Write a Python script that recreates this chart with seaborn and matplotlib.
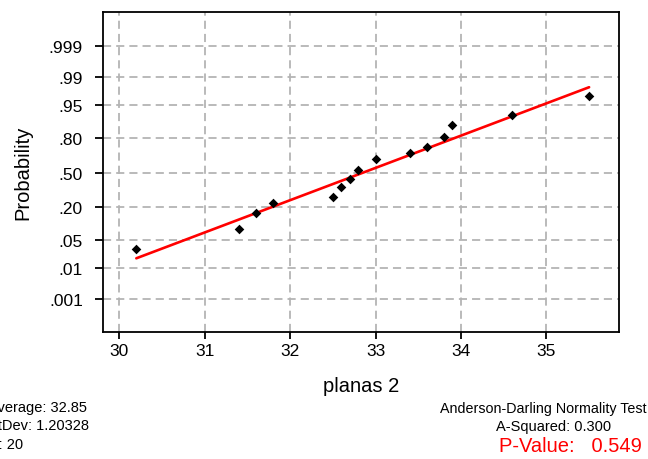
import math
from statistics import NormalDist
import numpy as np
import pandas as pd
import matplotlib
matplotlib.use("Agg")
import matplotlib.pyplot as plt
from matplotlib.ticker import NullLocator
import seaborn as sns

# ---- data ----
values = [30.2, 31.4, 31.6, 31.8, 32.5, 32.6, 32.7, 32.8, 33.0, 33.4, 33.6, 33.8, 33.9, 34.6, 35.5]
probs = [0.031, 0.085, 0.163, 0.232, 0.277, 0.364, 0.436, 0.529, 0.628, 0.684, 0.732, 0.810, 0.876, 0.919, 0.970]
fit_x = [30.2, 35.5]
fit_p = [0.0184, 0.9814]
ytick_probs = [0.999, 0.99, 0.95, 0.80, 0.50, 0.20, 0.05, 0.01, 0.001]
ytick_labels = ['.999', '.99', '.95', '.80', '.50', '.20', '.05', '.01', '.001']
xticks = [30, 31, 32, 33, 34, 35]
xticklabels = ['30', '31', '32', '33', '34', '35']
stats_left = ["Average: 32.85", "StDev: 1.20328", "N: 20"]
stats_right = ["Anderson-Darling Normality Test", "A-Squared: 0.300"]
pvalue_text = "P-Value:   0.549"

sns.set_style("white")
plt.rcParams['font.family'] = ['Liberation Sans', 'DejaVu Sans']

ND = NormalDist()
_inv_cdf = np.vectorize(ND.inv_cdf, otypes=[float])
_erf = np.vectorize(math.erf, otypes=[float])


def fwd(p):
    p = np.clip(np.asarray(p, dtype=float), 1e-12, 1 - 1e-12)
    return _inv_cdf(p)


def inv(z):
    z = np.asarray(z, dtype=float)
    return 0.5 * (1.0 + _erf(z / math.sqrt(2.0)))


fig = plt.figure(figsize=(6.48, 4.6), dpi=100)
ax = fig.add_axes([103 / 648, 1 - 333 / 460, 516 / 648, 320.5 / 460])

df = pd.DataFrame({"planas 2": values, "Probability": probs})
fit_df = pd.DataFrame({"planas 2": fit_x, "Probability": fit_p})

sns.lineplot(data=fit_df, x="planas 2", y="Probability", color="#ff0000",
             linewidth=1.9, estimator=None, sort=False, ax=ax, zorder=2)
sns.scatterplot(data=df, x="planas 2", y="Probability", marker="D", s=24,
                color="black", edgecolor="black", linewidth=0, ax=ax, zorder=3)

ax.set_yscale("function", functions=(fwd, inv))
ax.set_ylim(ND.cdf(-3.885), ND.cdf(3.93))
ax.set_xlim(29.81, 35.85)
ax.set_yticks(ytick_probs)
ax.set_yticklabels(ytick_labels)
ax.yaxis.set_minor_locator(NullLocator())
ax.set_xticks(xticks)
ax.set_xticklabels(xticklabels)
ax.xaxis.set_minor_locator(NullLocator())

ax.set_axisbelow(True)
ax.grid(True, color="#b4b4b4", linestyle=(0, (4.5, 2.8)), linewidth=1.3)

for s in ax.spines.values():
    s.set_color("black")
    s.set_linewidth(1.3)

ax.tick_params(axis="y", direction="out", length=5.5, width=1.3, pad=9,
               labelsize=12.5, left=True, colors="black")
ax.tick_params(axis="x", direction="out", length=5, width=1.3, pad=3,
               labelsize=12.5, bottom=True, colors="black")

ax.set_xlabel("planas 2", fontsize=14.5, color="black")
ax.set_ylabel("Probability", fontsize=14.5, color="black")
ax.xaxis.set_label_coords(0.5, (333 - 377) / 320.5)
ax.yaxis.set_label_coords((32 - 103) / 516, 0.5)

# stats text below the plot (partly cut at the left edge, as in the reference)
for txt, ypx in zip(stats_left, [408, 426.5, 445]):
    fig.text(-12 / 648, 1 - ypx / 460, txt, ha="left", va="center",
             fontsize=10.5, color="black")
fig.text(543 / 648, 1 - 409 / 460, stats_right[0], ha="center", va="center",
         fontsize=10.3, color="black")
fig.text(554 / 648, 1 - 427 / 460, stats_right[1], ha="center", va="center",
         fontsize=10.5, color="black")
fig.text(642 / 648, 1 - 447 / 460, pvalue_text, ha="right", va="center",
         fontsize=14.5, color="#ff0000")

fig.savefig("out.png", dpi=100, facecolor="white")
